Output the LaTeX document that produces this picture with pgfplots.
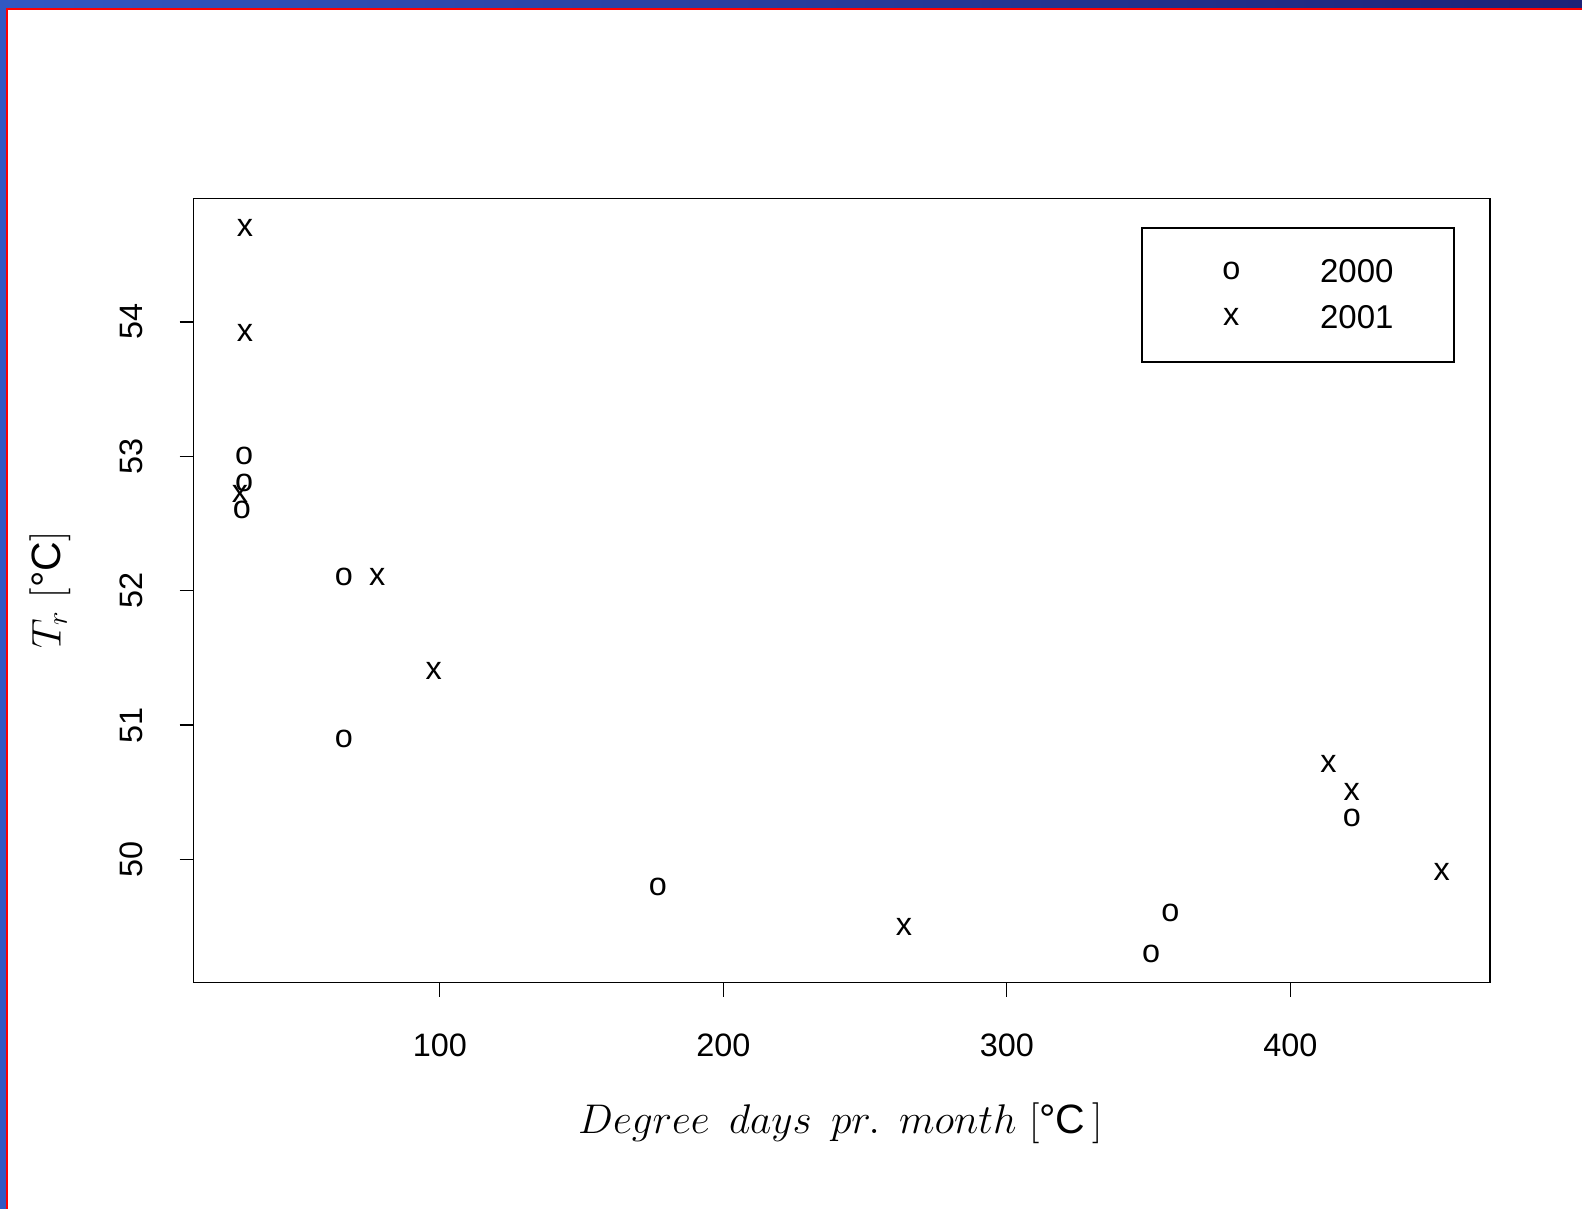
\documentclass[border=0pt]{standalone}
\usepackage{fontspec}
\newfontfamily\hv{Liberation Sans}
\usepackage{pgfplots}
\pgfplotsset{compat=1.18}

\definecolor{bandL}{HTML}{3258C2}
\definecolor{bandR}{HTML}{1E2277}

\begin{document}
\begin{tikzpicture}
% page 1582x1209 px at 0.5pt per px
\useasboundingbox (0,0) rectangle (791pt,604.5pt);
\fill[white] (0,0) rectangle (791pt,604.5pt);
\shade[left color=bandL, right color=bandR] (0,600.65pt) rectangle (791pt,604.5pt);
\fill[bandL] (0,0) rectangle (3pt,604.5pt);
\fill[red] (3pt,0) rectangle (4pt,600.65pt);
\fill[red] (3pt,599.65pt) rectangle (791pt,600.65pt);

\begin{axis}[
    at={(96.86pt,113.15pt)}, anchor=south west,
    width=648.2pt, height=392pt, scale only axis,
    xmin=13.2, xmax=470.5,
    ymin=49.084, ymax=54.916,
    xtick={100,200,300,400},
    ytick={50,51,52,53,54},
    xtick pos=bottom, ytick pos=left,
    tick align=outside,
    major tick length=7pt,
    tick style={black, line width=0.7pt},
    axis line style={line width=0.7pt},
    /pgf/number format/assume math mode=true,
    ticklabel style={font=\hv\fontsize{16.2}{19}\selectfont},
    xticklabel style={anchor=north, inner sep=0pt},
    yticklabel style={rotate=90, anchor=south, inner sep=0pt},
    xticklabel shift=18.4pt,
    yticklabel shift=18.5pt,
    xlabel={$Degree\ \,days\ \,pr.\ \,month$ [{\hv °C}\,]},
    ylabel={$T_r$ [{\hv °C}]},
    every axis x label/.style={at={(axis description cs:0.4988,-0.1789)}, anchor=center, font=\fontsize{20.5}{24}\selectfont},
    every axis y label/.style={at={(axis description cs:-0.1105,0.5006)}, anchor=center, rotate=90, font=\fontsize{20.5}{24}\selectfont},
    legend style={at={(axis description cs:0.7315,0.9360)}, anchor=north west,
        draw=none, fill=none, inner sep=0pt, row sep=0pt, column sep=0pt,
        nodes={inner sep=0pt}, font=\hv\fontsize{16.5}{19}\selectfont},
    legend cell align=left,
    legend image code/.code={
        \path[draw=none, fill=none] (-44.4pt,-11.48pt) rectangle (44.4pt,11.48pt);
        \draw plot coordinates {(0pt,0pt)};
    },
    mark=text, text mark as node=true,
    text mark style={font=\hv\fontsize{16.2}{19}\selectfont, inner sep=0pt, anchor=center},
]
% 2000
\addplot[only marks, text mark={o}] coordinates {
    (31.0,53.00) (31.0,52.80) (30.2,52.60) (66.2,52.10) (66.2,50.90)
    (176.9,49.80) (350.9,49.30) (357.7,49.60) (421.7,50.31)
};
% 2001
\addplot[only marks, text mark={x}] coordinates {
    (31.3,54.70) (31.3,53.92) (29.5,52.72) (77.9,52.10) (97.9,51.40)
    (263.7,49.50) (413.5,50.71) (421.7,50.50) (453.4,49.91)
};
\legend{2000,2001}
\draw[line width=0.7pt] (axis description cs:0.7315,0.9627) rectangle (axis description cs:0.9720,0.7915);
\end{axis}
\end{tikzpicture}
\end{document}
